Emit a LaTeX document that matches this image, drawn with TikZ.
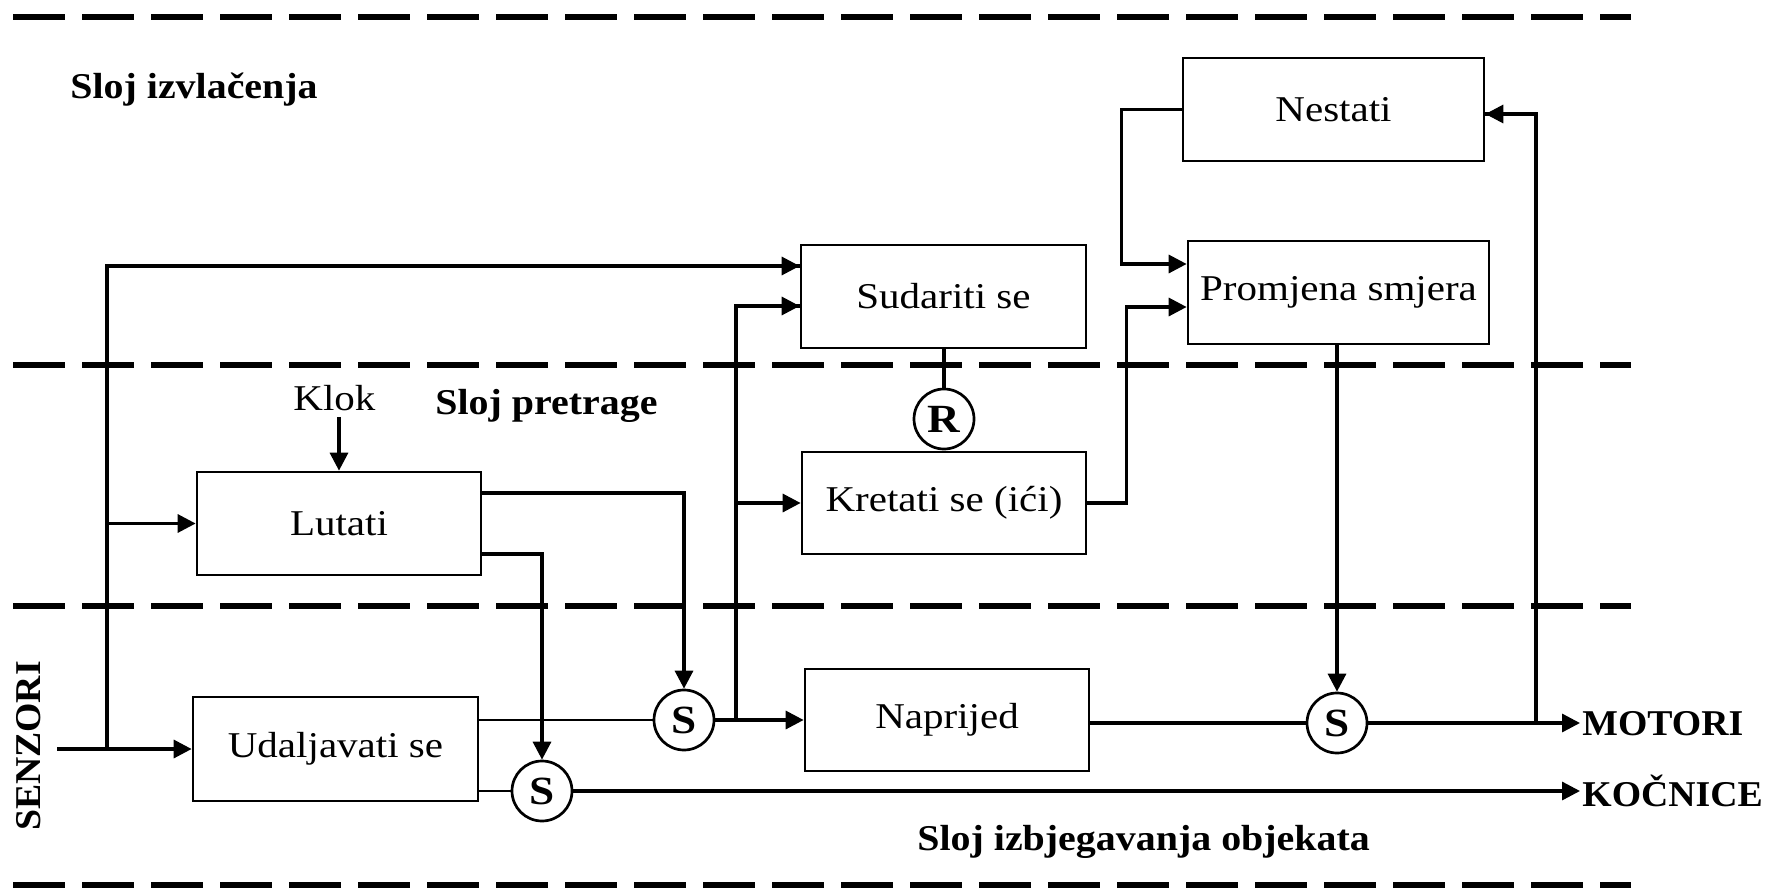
\documentclass[tikz,border=0pt]{standalone}
\usepackage{fontspec}
\setmainfont{Liberation Serif}[FakeStretch=1.13]
\newfontfamily\hdrfont{Liberation Serif Bold}[FakeStretch=1.10]
\newfontfamily\capsfont{Liberation Serif Bold}[FakeStretch=1.04]
\usetikzlibrary{arrows.meta}
\begin{document}
\begin{tikzpicture}[x=0.5pt,y=-0.5pt,
  font=\fontsize{18.15}{20}\selectfont,
  blk/.style={draw, line width=1.35pt, inner sep=0pt},
  sum/.style={draw, circle, line width=1.35pt, minimum size=30pt, inner sep=0pt,
              font=\fontsize{20}{22}\selectfont\bfseries},
  conn/.style={line width=1.65pt},
  fine/.style={line width=1.3pt},
  arr/.style={conn, -{Triangle[length=9pt,width=9pt]}},
  layer/.style={line width=3pt, dash pattern=on 25.85pt off 8.65pt},
  hdr/.style={inner sep=0pt, anchor=base west, font=\fontsize{18.15}{20}\hdrfont},
  outlbl/.style={inner sep=0pt, anchor=base west, font=\fontsize{18.15}{20}\capsfont}]
\useasboundingbox (0,0) rectangle (1772,888);

% layer separators
\draw[layer] (13,17) -- (1631,17);
\draw[layer] (13,365) -- (1631,365);
\draw[layer] (13,606) -- (1631,606);
\draw[layer] (13,885) -- (1631,885);

% layer titles
\node[hdr] (tIzv) at (70,99) {Sloj izvlačenja};
\node[hdr] (tPre) at (435,414) {Sloj pretrage};
\node[hdr] (tIzb) at (917,850) {Sloj izbjegavanja objekata};
\node[inner sep=0pt, anchor=base, rotate=90, font=\fontsize{18.15}{20}\capsfont] (senzori) at (40,746) {SENZORI};
\node[inner sep=0pt, anchor=base west] (klok) at (293,410) {Klok};
\node[outlbl] (motori) at (1582,735) {MOTORI};
\node[outlbl] (kocnice) at (1582,806) {KOČNICE};

% behaviour blocks
\node[blk, minimum width=150.5pt, minimum height=51.5pt] (nest) at (1333.5,109.5) {Nestati};
\node[blk, minimum width=142.5pt, minimum height=51.5pt] (sud)  at (943.5,296.5) {Sudariti se};
\node[blk, minimum width=150.5pt, minimum height=51.5pt] (prom) at (1338.5,292.5) {Promjena smjera};
\node[blk, minimum width=142pt,   minimum height=51.5pt] (lut)  at (339,523.5) {Lutati};
\node[blk, minimum width=142pt,   minimum height=51pt]   (kret) at (944,503) {Kretati se (ići)};
\node[blk, minimum width=142.5pt, minimum height=52pt]   (udal) at (335.5,749) {Udaljavati se};
\node[blk, minimum width=142pt,   minimum height=51pt]   (napr) at (947,720) {Naprijed};

% suppressor / reset nodes
\node[sum] (r)  at (944,419) {R};
\node[sum] (s1) at (684,720) {S};
\node[sum] (s2) at (542,791) {S};
\node[sum] (s3) at (1337,723) {S};

% free ends and junctions
\coordinate (in)  at (57,749);
\coordinate (t1)  at (107,749);
\coordinate (t2)  at (736,720);
\coordinate (t3)  at (1536,723);
\coordinate (mot) at (1580,723);
\coordinate (koc) at (1580,791);

% sensor inputs
\draw[arr] (in) -- (udal.west);
\draw[conn] (t1) |- ([yshift=15.25pt]sud.west);
\draw[arr] ([yshift=15.25pt]sud.west) ++(-1pt,0) -- ([yshift=15.25pt]sud.west);
\draw[arr] (t1 |- lut.west) -- (lut.west);
\draw[arr] ([yshift=-3pt]klok.south -| lut.north) -- (lut.north);

% wander outputs
\draw[arr] ([yshift=15.25pt]lut.east) -| (s1.north);
\draw[arr] ([yshift=-15.25pt]lut.east) -| (s2.north);

% avoid outputs
\draw[fine] (udal.east |- s1.west) -- (s1.west);
\draw[fine] (udal.east |- s2.west) -- (s2.west);
\draw[arr] (s1.east) -- (napr.west |- s1.east);
\draw[conn] (t2) |- ([yshift=-4.75pt]sud.west);
\draw[arr] ([yshift=-4.75pt]sud.west) ++(-1pt,0) -- ([yshift=-4.75pt]sud.west);
\draw[arr] (t2 |- kret.west) -- (kret.west);
\draw[arr] (s2.east) -- (koc);

% forward to motors
\draw[conn] (napr.east |- s3.west) -- (s3.west);
\draw[arr] (s3.east) -- (mot);
\draw[conn] (t3) |- ([yshift=-2.25pt]nest.east);
\draw[arr] ([yshift=-2.25pt]nest.east) ++(1pt,0) -- ([yshift=-2.25pt]nest.east);
\draw[arr] (prom.south -| s3.north) -- (s3.north);

% upper layer links
\draw[arr] (nest.west) -- ++(-30pt,0) |- ([yshift=14.25pt]prom.west);
\draw[arr] (kret.east) -- ++(19.5pt,0) |- ([yshift=-7.25pt]prom.west);
\draw[conn] (sud.south -| r.north) -- (r.north);
\end{tikzpicture}
\end{document}
